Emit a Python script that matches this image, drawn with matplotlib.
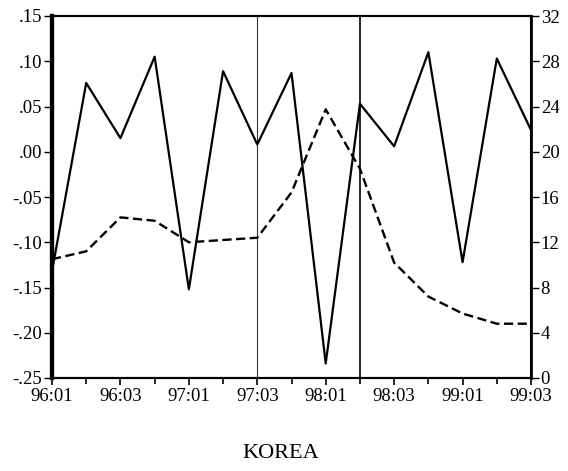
import matplotlib
matplotlib.use("Agg")
import matplotlib.pyplot as plt
import numpy as np

plt.rcParams['font.family'] = ['Liberation Serif', 'DejaVu Serif']

quarters = ["96:01", "96:02", "96:03", "96:04", "97:01", "97:02", "97:03", "97:04",
            "98:01", "98:02", "98:03", "98:04", "99:01", "99:02", "99:03"]
solid_vals = [-0.132, 0.076, 0.015, 0.105, -0.152, 0.089, 0.008, 0.087,
              -0.234, 0.053, 0.006, 0.110, -0.122, 0.103, 0.024]
dashed_vals = [10.5, 11.2, 14.2, 13.9, 12.0, 12.2, 12.4, 16.4,
               23.75, 18.5, 10.2, 7.2, 5.7, 4.8, 4.8]
left_ticks = [-0.25, -0.20, -0.15, -0.10, -0.05, 0.00, 0.05, 0.10, 0.15]
left_labels = ["-.25", "-.20", "-.15", "-.10", "-.05", ".00", ".05", ".10", ".15"]
right_ticks = [0, 4, 8, 12, 16, 20, 24, 28, 32]
vlines_at = ["97:03", "98:02"]
title = "KOREA"

x = np.arange(len(quarters))

fig = plt.figure(figsize=(5.68, 4.71), dpi=100)
ax = fig.add_axes([52/568, 1-378/471, (531-52)/568, (378-16)/471])
ax2 = ax.twinx()

ax.plot(x, solid_vals, color='black', lw=1.6, zorder=3)
ax2.plot(x, dashed_vals, color='black', lw=1.7, ls=(0, (3.9, 1.9)), zorder=3)

for q in vlines_at:
    i = quarters.index(q)
    ax.axvline(i, color='black' if q == "98:02" else '#333333',
               lw=1.2 if q == "98:02" else 0.8, zorder=2)

ax.set_xlim(0, len(quarters) - 1)
ax.set_ylim(-0.25, 0.15)
ax2.set_ylim(0, 32)

ax.set_yticks(left_ticks)
ax.set_yticklabels(left_labels)
ax2.set_yticks(right_ticks)
ax2.set_yticklabels([str(t) for t in right_ticks])

major = x[::2]
ax.set_xticks(major)
ax.set_xticklabels([quarters[i] for i in major])
ax.set_xticks(x[1::2], minor=True)

fs = 13.5
ax.tick_params(axis='x', which='major', direction='out', length=5, width=1.2, labelsize=fs, pad=2)
ax.tick_params(axis='x', which='minor', direction='out', length=4, width=1.2)
ax.tick_params(axis='y', direction='out', length=6, width=1.0, labelsize=fs, pad=1)
ax2.tick_params(axis='y', direction='out', length=6, width=1.0, labelsize=fs, pad=1)

for a in (ax, ax2):
    for s in a.spines.values():
        s.set_linewidth(1.5)
ax.spines['left'].set_linewidth(3)
ax2.spines['left'].set_linewidth(3)
ax2.spines['right'].set_linewidth(2)

fig.text(281/568, 1-453/471, title, ha='center', va='center', fontsize=16)

fig.savefig("out.png", dpi=100)
